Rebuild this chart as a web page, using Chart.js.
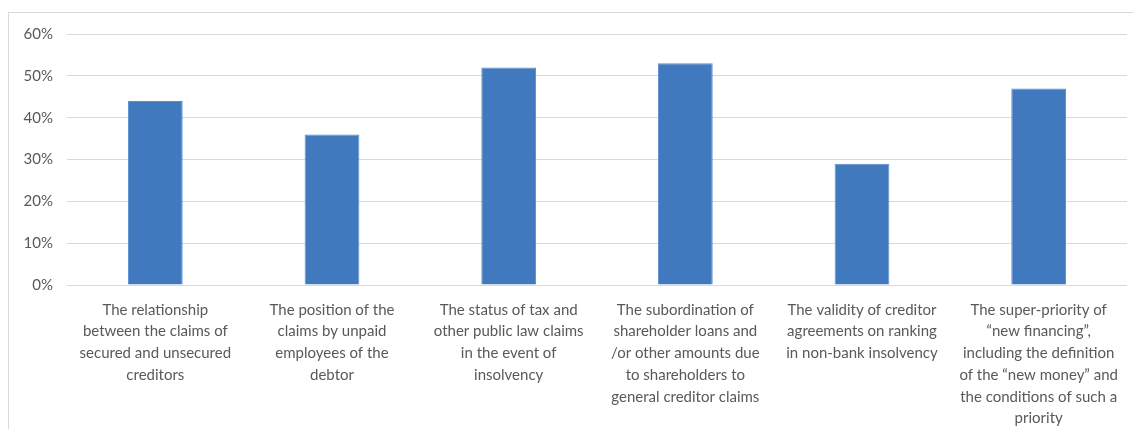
<!DOCTYPE html>
<html>
<head>
<meta charset="utf-8">
<script src="https://cdn.jsdelivr.net/npm/chart.js@4/dist/chart.umd.min.js"></script>
<style>
  html, body { margin: 0; padding: 0; background: #fff; overflow: hidden; }
  #frame { position: absolute; left: 8px; top: 12px; width: 1140px; height: 440px; border: 1px solid #d9d9d9; }
  #wrap { position: absolute; left: 0; top: 0; width: 1133px; height: 429px; }
</style>
</head>
<body>
<div id="frame"></div>
<div id="wrap"><canvas id="chart" width="1133" height="429"></canvas></div>
<script>
// share of respondents per ranking topic
const categories = [
    ["The relationship", "between the claims of", "secured and unsecured", "creditors"],
    ["The position of the", "claims by unpaid", "employees of the", "debtor"],
    ["The status of tax and", "other public law claims", "in the event of", "insolvency"],
    ["The subordination of", "shareholder loans and", "/or other amounts due", "to shareholders to", "general creditor claims"],
    ["The validity of creditor", "agreements on ranking", "in non-bank insolvency"],
    ["The super-priority of", "\u201cnew financing\u201d,", "including the definition", "of the \u201cnew money\u201d and", "the conditions of such a", "priority"]
];
const values = [44, 36, 52, 53, 29, 47];
const yTicks = [0, 10, 20, 30, 40, 50, 60];

const textColor = '#595959';
const gridColor = '#d9d9d9';

new Chart(document.getElementById('chart'), {
    type: 'bar',
    data: {
        labels: categories,
        datasets: [{
            data: values,
            backgroundColor: '#4179BE',
            borderColor: '#5B8FCC',
            borderWidth: 1,
            categoryPercentage: 1,
            barPercentage: 0.31
        }]
    },
    options: {
        responsive: false,
        animation: false,
        layout: { padding: { top: 34, right: 6, left: 0, bottom: 0 } },
        plugins: { legend: { display: false }, tooltip: { enabled: false } },
        scales: {
            x: {
                grid: { display: false },
                border: { display: false },
                ticks: {
                    color: textColor,
                    font: { family: 'Lato', size: 15, lineHeight: 1.45 },
                    maxRotation: 0,
                    autoSkip: false,
                    padding: 6
                },
                afterFit: s => { s.height = 144; }
            },
            y: {
                min: 0,
                max: 60,
                afterBuildTicks: s => { s.ticks = yTicks.map(v => ({ value: v })); },
                grid: { color: gridColor, drawTicks: false },
                border: { display: false },
                ticks: {
                    color: textColor,
                    font: { family: 'Lato', size: 15 },
                    padding: 14,
                    callback: v => v + '%'
                },
                afterFit: s => { s.width = 67; }
            }
        }
    }
});
</script>
</body>
</html>
